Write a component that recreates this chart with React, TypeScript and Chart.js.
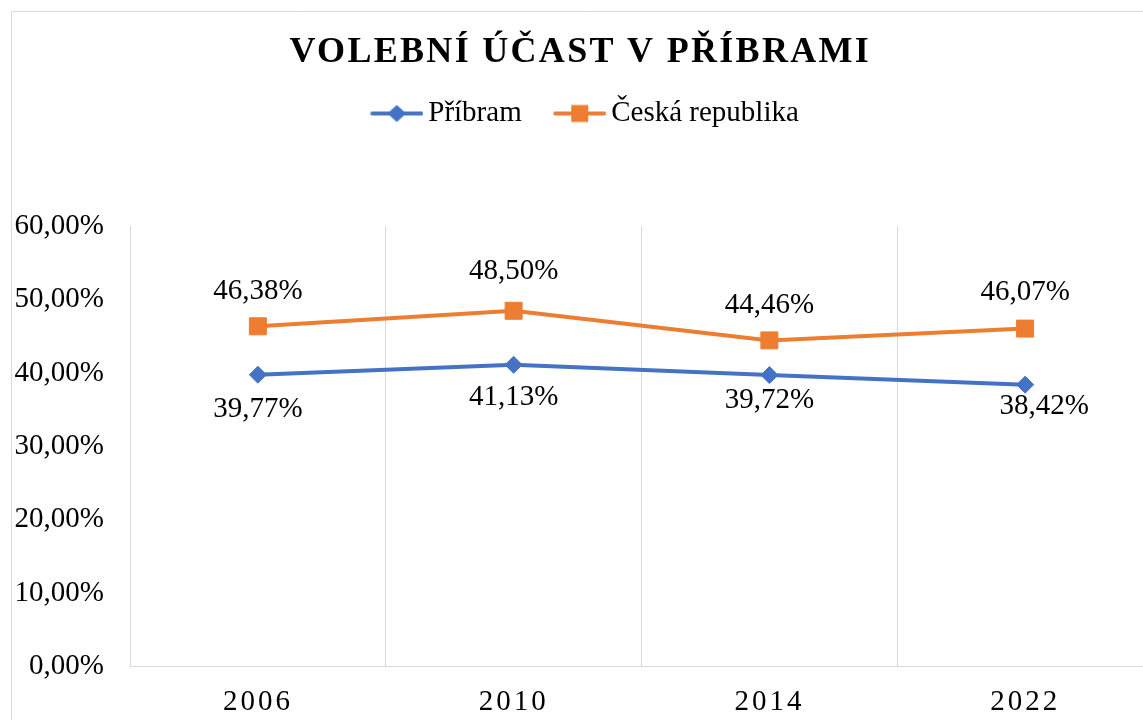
import React, { useEffect, useRef } from 'react';
import { Chart, registerables } from 'chart.js';

Chart.register(...registerables);

const FONT = "'Liberation Serif', 'Times New Roman', serif";

const titleText = 'VOLEBNÍ ÚČAST V PŘÍBRAMI';
const categories = ['2006', '2010', '2014', '2022'];
const seriesNames = ['Příbram', 'Česká republika'];
const pribramValues = [39.77, 41.13, 39.72, 38.42];
const czValues = [46.38, 48.5, 44.46, 46.07];
const yTickValues = [0, 10, 20, 30, 40, 50, 60];

// data label nudges in px [dx, dy]
const pribramLabelOffsets = [[0, 35], [0, 33], [0, 25], [19, 22]];
const czLabelOffsets = [[0, -35], [0, -39], [0, -35], [0, -36]];

const BLUE = '#4472C4';
const ORANGE = '#ED7D31';
const GRID = '#d9d9d9';

const fmt = (v: number) => v.toFixed(2).replace('.', ',') + '%';

function makeLegendIcon(color: string, style: 'diamond' | 'square'): HTMLCanvasElement {
  const c = document.createElement('canvas');
  c.width = 72;
  c.height = 24;
  const g = c.getContext('2d')!;
  g.strokeStyle = color;
  g.lineWidth = 4;
  g.lineCap = 'round';
  g.beginPath();
  g.moveTo(21, 12);
  g.lineTo(70, 12);
  g.stroke();
  g.fillStyle = color;
  const cx = 45.5;
  const cy = 12;
  g.beginPath();
  if (style === 'diamond') {
    g.moveTo(cx, cy - 8.5);
    g.lineTo(cx + 9.5, cy);
    g.lineTo(cx, cy + 8.5);
    g.lineTo(cx - 9.5, cy);
    g.closePath();
  } else {
    g.rect(cx - 8.5, cy - 8.5, 17, 17);
  }
  g.fill();
  return c;
}

// chart frame: only its top and left edges fall inside the picture
const frameBorderPlugin = {
  id: 'frameBorder',
  beforeDraw(chart: any) {
    const ctx = chart.ctx;
    ctx.save();
    ctx.fillStyle = '#fff';
    ctx.fillRect(0, 0, chart.width, chart.height);
    ctx.strokeStyle = GRID;
    ctx.lineWidth = 1;
    ctx.beginPath();
    ctx.moveTo(0.5, chart.height);
    ctx.lineTo(0.5, 0.5);
    ctx.lineTo(chart.width, 0.5);
    ctx.stroke();
    ctx.restore();
  },
};

const dataLabelPlugin = {
  id: 'dataLabels',
  afterDatasetsDraw(chart: any) {
    const ctx = chart.ctx;
    ctx.save();
    ctx.font = `29px ${FONT}`;
    ctx.fillStyle = '#000';
    ctx.textAlign = 'center';
    ctx.textBaseline = 'middle';
    chart.data.datasets.forEach((ds: any, di: number) => {
      const meta = chart.getDatasetMeta(di);
      const offs = di === 0 ? pribramLabelOffsets : czLabelOffsets;
      meta.data.forEach((el: any, i: number) => {
        const [dx, dy] = offs[i];
        ctx.fillText(fmt(ds.data[i]), el.x + dx, el.y + dy);
      });
    });
    ctx.restore();
  },
};

const spacingPlugin = {
  id: 'letterSpacing',
  beforeDraw(chart: any) {
    const wrap = (obj: any, key: string, spacing: string, dx: number) => {
      if (!obj || obj.__spaced) return;
      const orig = obj[key].bind(obj);
      obj[key] = (...args: any[]) => {
        const c = chart.ctx;
        c.save();
        c.letterSpacing = spacing;
        c.translate(dx, 0);
        orig(...args);
        c.restore();
      };
      obj.__spaced = true;
    };
    wrap(chart.titleBlock, 'draw', '2.3px', -3.5);
    wrap(chart.legend, 'draw', '0px', -4);
    wrap(chart.scales.x, 'drawLabels', '3px', 0);
  },
};

export default function App() {
  const ref = useRef<HTMLCanvasElement | null>(null);

  useEffect(() => {
    if (!ref.current) return;
    const icons = [makeLegendIcon(BLUE, 'diamond'), makeLegendIcon(ORANGE, 'square')];
    const chart = new Chart(ref.current, {
      type: 'line',
      data: {
        labels: categories,
        datasets: [
          {
            label: seriesNames[0],
            data: pribramValues,
            borderColor: BLUE,
            backgroundColor: BLUE,
            borderWidth: 4,
            pointStyle: 'rectRot',
            pointRadius: 8.5,
            pointBackgroundColor: BLUE,
            pointBorderColor: BLUE,
            pointBorderWidth: 1,
            tension: 0,
          },
          {
            label: seriesNames[1],
            data: czValues,
            borderColor: ORANGE,
            backgroundColor: ORANGE,
            borderWidth: 4,
            pointStyle: 'rect',
            pointRadius: 12,
            pointBackgroundColor: ORANGE,
            pointBorderColor: ORANGE,
            pointBorderWidth: 1,
            tension: 0,
          },
        ],
      },
      options: {
        responsive: false,
        animation: false,
        events: [],
        layout: { autoPadding: false, padding: { left: 3.6, right: 7, top: 1, bottom: 32 } },
        plugins: {
          title: {
            display: true,
            text: titleText,
            color: '#000',
            font: { family: FONT, size: 36, weight: 'bold', lineHeight: 1.2 },
            padding: { top: 19, bottom: 2.8 },
          },
          subtitle: {
            display: true,
            text: '',
            weight: 500,
            position: 'top',
            font: { family: FONT, size: 10, lineHeight: 1 },
            padding: { top: 0, bottom: 78.5 },
          } as any,
          legend: {
            display: true,
            position: 'top',
            labels: {
              usePointStyle: true,
              pointStyleWidth: 53,
              padding: 22,
              color: '#000',
              font: { family: FONT, size: 29 },
              generateLabels: (c: any) =>
                c.data.datasets.map((ds: any, i: number) => ({
                  text: ds.label,
                  pointStyle: icons[i],
                  fillStyle: ds.borderColor,
                  strokeStyle: ds.borderColor,
                  lineWidth: 0,
                  hidden: false,
                  datasetIndex: i,
                  fontColor: '#000',
                })),
            },
          },
          tooltip: { enabled: false },
        },
        scales: {
          x: {
            type: 'category',
            offset: true,
            grid: { display: true, color: GRID, lineWidth: 1, drawTicks: false, offset: true },
            border: { display: true, color: GRID, width: 1 },
            ticks: { color: '#000', font: { family: FONT, size: 29 }, padding: 19 },
            afterFit: (scale: any) => {
              scale.height = 53.8;
            },
          },
          y: {
            min: 0,
            max: 60,
            grid: { display: false, drawTicks: false },
            border: { display: true, color: GRID, width: 1 },
            afterBuildTicks: (scale: any) => {
              scale.ticks = yTickValues.map((v) => ({ value: v }));
            },
            afterFit: (scale: any) => {
              scale.width = 115.4;
            },
            ticks: {
              color: '#000',
              font: { family: FONT, size: 29 },
              padding: 26,
              callback: (v: any) => fmt(Number(v)),
            },
          },
        },
      },
      plugins: [frameBorderPlugin, spacingPlugin, dataLabelPlugin],
    } as any);
    chart.draw();
    return () => chart.destroy();
  }, []);

  return (
    <div
      style={{
        position: 'fixed',
        left: 0,
        top: 0,
        width: 1143,
        height: 720,
        overflow: 'hidden',
        background: '#fff',
      }}
    >
      <canvas
        ref={ref}
        width={1149}
        height={741}
        style={{ position: 'absolute', left: 11, top: 11, display: 'block' }}
      />
    </div>
  );
}
